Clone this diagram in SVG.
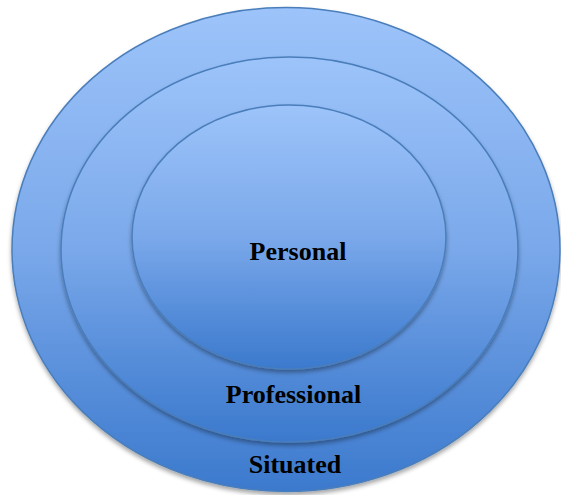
<svg xmlns="http://www.w3.org/2000/svg" width="561" height="495" viewBox="0 0 561 495">
<defs>
<linearGradient id="g" x1="0" y1="0" x2="0" y2="1">
<stop offset="0" stop-color="#9DC4FA"/>
<stop offset="0.5" stop-color="#7AA8EA"/>
<stop offset="1" stop-color="#3B79CD"/>
</linearGradient>
<filter id="sh" x="-10%" y="-10%" width="120%" height="120%">
<feDropShadow dx="0" dy="3" stdDeviation="2" flood-color="#000" flood-opacity="0.35"/>
</filter>
</defs>
<style>
.ring{fill:url(#g);stroke:#4A7EBB;stroke-width:1.5;filter:url(#sh)}
.lbl{font-family:"Liberation Serif","Times New Roman",serif;font-weight:bold;font-size:26px;fill:#000;text-anchor:middle}
</style>
<rect width="561" height="495" fill="#fff"/>
<g id="situated">
<ellipse class="ring" cx="286" cy="249.5" rx="274" ry="242"/>
<text class="lbl" x="295" y="473">Situated</text>
</g>
<g id="professional">
<ellipse class="ring" cx="289.5" cy="249.5" rx="228.5" ry="192.5"/>
<text class="lbl" x="293.5" y="403">Professional</text>
</g>
<g id="personal">
<ellipse class="ring" cx="289" cy="237" rx="157" ry="132"/>
<text class="lbl" x="298" y="260">Personal</text>
</g>
<g id="connectors"/>
</svg>
